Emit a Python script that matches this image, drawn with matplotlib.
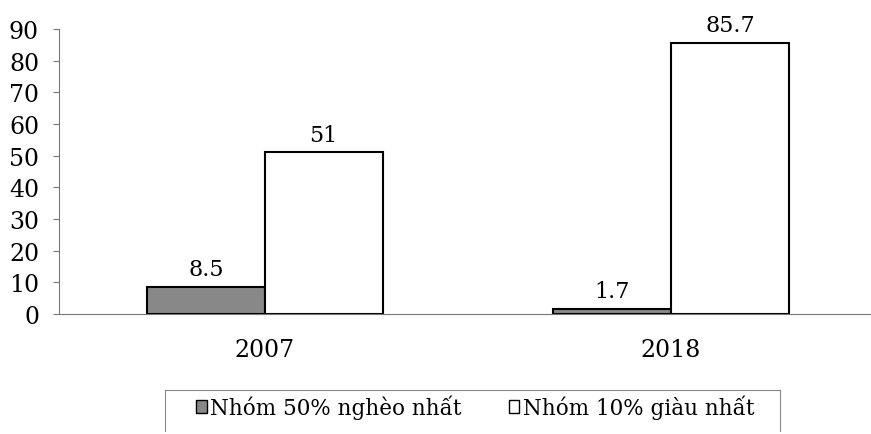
import matplotlib.pyplot as plt
import numpy as np
from matplotlib.patches import Patch
from matplotlib.lines import Line2D

# Data
years = ["2007", "2018"]
poorest_50 = [8.5, 1.7]
richest_10 = [51, 85.7]
series_labels = ["Nhóm 50% nghèo nhất", "Nhóm 10% giàu nhất"]
y_ticks = list(range(0, 100, 10))

plt.rcParams['font.family'] = ['DejaVu Serif']

W, H = 871, 435
fig = plt.figure(figsize=(W / 100, H / 100), dpi=100)
ax = fig.add_axes([0.068, 0.276, 0.931, 0.655])

x = np.arange(len(years))
w = 0.29
b1 = ax.bar(x - w / 2, poorest_50, w, color='#888888', edgecolor='black', linewidth=1.5)
b2 = ax.bar(x + w / 2, richest_10, w, color='white', edgecolor='black', linewidth=1.5)

for bars, vals in ((b1, poorest_50), (b2, richest_10)):
    for rect, v in zip(bars, vals):
        ax.annotate(f"{v:g}", (rect.get_x() + rect.get_width() / 2, v),
                    xytext=(0, 5), textcoords='offset points',
                    ha='center', va='bottom', fontsize=16)

ax.set_xlim(-0.506, 1.49)
ax.set_ylim(0, 90)
ax.set_yticks(y_ticks)
ax.set_yticklabels([str(t) for t in y_ticks], fontsize=17)
ax.set_xticks(x)
ax.set_xticklabels(years, fontsize=17)
ax.tick_params(axis='x', length=0, pad=17)
ax.tick_params(axis='y', length=4.5, width=0.8, color='#777777', pad=10)

for s in ('top', 'right'):
    ax.spines[s].set_visible(False)
ax.spines['left'].set_color('#777777')
ax.spines['left'].set_linewidth(0.8)
ax.spines['bottom'].set_color('#777777')
ax.spines['bottom'].set_linewidth(0.8)

# legend (frame drawn by hand: top, left and right edges)
handles = [Patch(facecolor='#888888', edgecolor='black', linewidth=1),
           Patch(facecolor='white', edgecolor='black', linewidth=1)]
fig.legend(handles, series_labels, loc='center',
           bbox_to_anchor=(475 / W, 1 - 408 / H),
           ncol=2, fontsize=15.5, frameon=False,
           handlelength=0.5, handleheight=0.5, handletextpad=0.15,
           borderaxespad=0, columnspacing=2.2)
fx = lambda px: px / W
fy = lambda py: 1 - py / H
frame_kw = dict(color='#888888', linewidth=0.8, transform=fig.transFigure)
fig.add_artist(Line2D([fx(165), fx(780)], [fy(391), fy(391)], **frame_kw))
fig.add_artist(Line2D([fx(165), fx(165)], [fy(391), fy(432)], **frame_kw))
fig.add_artist(Line2D([fx(780), fx(780)], [fy(391), fy(432)], **frame_kw))

fig.savefig('out.png', dpi=100)
